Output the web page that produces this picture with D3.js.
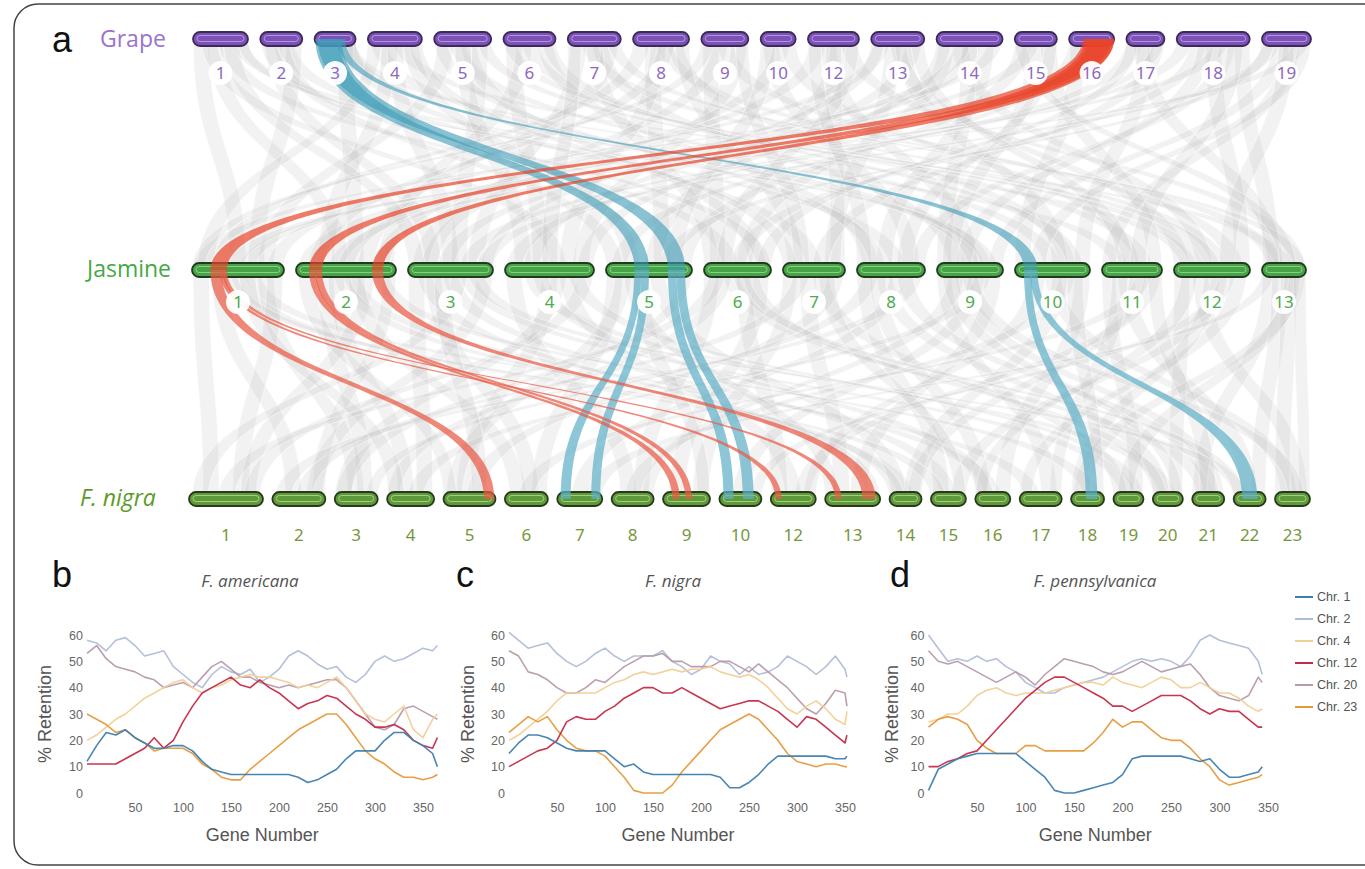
<!DOCTYPE html>
<html><head><meta charset="utf-8">
<script src="https://cdn.jsdelivr.net/npm/d3@7"></script>
<style>body{margin:0;background:#fff;} svg{display:block;}</style>
</head><body>
<svg id="fig" width="1365" height="869"></svg>
<script>
// ---------------- DATA: panel a ----------------
const grapeChr = ["1","2","3","4","5","6","7","8","9","10","12","13","14","15","16","17","18","19"];
const grapeLen = [55,42,41,54,57,52,53,56,47,35,51,53,66,42,45,38,73,49];
const jasChr = ["1","2","3","4","5","6","7","8","9","10","11","12","13"];
const jasLen = [92,100,85,89,86,67,62,68,66,75,60,76,44];
const nigraChr = ["1","2","3","4","5","6","7","8","9","10","12","13","14","15","16","17","18","19","20","21","22","23"];
const nigraLen = [74,53,43,47,52,43,45,42,47,42,45,55,32,35,35,42,33,30,30,32,32,35];

// background synteny: [grapeChr, pos, jasmineChr, pos]
const grayGJ = [
["1",.15,"1",.5],["1",.4,"2",.45],["1",.6,"6",.4],["1",.85,"11",.3],["1",.3,"4",.6],
["2",.3,"3",.3],["2",.6,"8",.6],["2",.8,"1",.7],["2",.5,"5",.1],
["3",.8,"7",.5],["3",.9,"12",.2],["3",.75,"2",.6],
["4",.2,"9",.7],["4",.4,"2",.3],["4",.6,"13",.5],["4",.8,"5",.3],["4",.5,"3",.5],
["5",.2,"1",.8],["5",.4,"10",.5],["5",.6,"6",.8],["5",.8,"3",.6],["5",.5,"4",.2],
["6",.2,"4",.4],["6",.5,"11",.7],["6",.8,"8",.2],["6",.4,"2",.9],
["7",.2,"3",.8],["7",.4,"12",.6],["7",.6,"9",.3],["7",.8,"2",.7],["7",.5,"6",.1],
["8",.15,"1",.3],["8",.35,"5",.65],["8",.55,"13",.3],["8",.75,"10",.7],["8",.9,"7",.2],["8",.45,"4",.7],
["9",.2,"6",.2],["9",.5,"12",.8],["9",.8,"4",.85],["9",.4,"3",.15],
["10",.3,"8",.8],["10",.6,"3",.25],["10",.8,"11",.5],
["12",.2,"2",.85],["12",.4,"9",.5],["12",.6,"5",.55],["12",.8,"13",.8],["12",.5,"7",.9],
["13",.2,"1",.9],["13",.4,"7",.8],["13",.6,"10",.6],["13",.8,"4",.3],["13",.5,"12",.1],
["14",.15,"6",.6],["14",.35,"12",.4],["14",.55,"3",.45],["14",.75,"8",.4],["14",.9,"1",.1],["14",.5,"9",.1],
["15",.2,"5",.9],["15",.5,"9",.2],["15",.8,"11",.9],["15",.4,"2",.1],
["16",.1,"5",.15],["16",.2,"10",.1],
["17",.2,"4",.1],["17",.5,"10",.9],["17",.8,"7",.6],["17",.4,"13",.3],
["18",.1,"2",.4],["18",.3,"6",.5],["18",.5,"12",.9],["18",.7,"8",.9],["18",.9,"13",.2],["18",.6,"1",.6],
["19",.2,"3",.9],["19",.4,"9",.9],["19",.6,"11",.1],["19",.8,"1",.45],["19",.5,"12",.7],
["1",.7,"3",.1],["2",.2,"6",.9],["3",.95,"9",.6],["4",.1,"1",.15],["5",.9,"12",.3],["6",.9,"10",.8],
["7",.9,"13",.9],["8",.6,"2",.2],["9",.9,"7",.3],["10",.2,"5",.8],["12",.9,"6",.3],["13",.9,"11",.4],
["14",.1,"4",.9],["15",.9,"8",.7],["17",.9,"3",.7],["18",.4,"9",.4],["19",.9,"10",.3],["19",.1,"5",.7],
["18",.8,"11",.6],["14",.4,"2",.5],["12",.1,"8",.1],["9",.1,"1",.05],["6",.1,"12",.5],["4",.9,"7",.1],
["1",.95,"9",.8],["5",.1,"8",.3],["13",.1,"3",.95],["17",.1,"6",.9],["15",.1,"13",.6],["7",.1,"4",.5]
];
// background synteny: [jasmineChr, pos, nigraChr, pos]
const grayJN = [
["1",.1,"1",.3],["1",.3,"2",.4],["1",.5,"14",.5],["1",.65,"17",.3],["1",.8,"3",.5],["1",.9,"1",.7],
["2",.3,"3",.7],["2",.4,"4",.4],["2",.55,"16",.5],["2",.7,"1",.8],["2",.6,"6",.3],["2",.95,"2",.9],
["3",.1,"4",.8],["3",.3,"6",.6],["3",.5,"15",.5],["3",.7,"19",.5],["3",.9,"2",.8],["3",.6,"1",.15],
["4",.1,"8",.4],["4",.3,"20",.5],["4",.5,"5",.4],["4",.7,"12",.5],["4",.9,"1",.85],["4",.6,"3",.2],
["5",.1,"6",.8],["5",.6,"14",.3],["5",.95,"3",.2],["5",.2,"5",.2],
["6",.1,"8",.7],["6",.4,"21",.4],["6",.6,"12",.2],["6",.85,"9",.3],["6",.3,"4",.1],
["7",.1,"9",.8],["7",.4,"13",.3],["7",.6,"19",.2],["7",.85,"5",.6],
["8",.1,"15",.3],["8",.4,"20",.3],["8",.6,"7",.5],["8",.85,"2",.2],["8",.3,"16",.2],
["9",.1,"17",.7],["9",.4,"21",.8],["9",.6,"10",.5],["9",.85,"13",.6],["9",.3,"8",.9],
["10",.5,"23",.4],["10",.7,"8",.5],["10",.9,"16",.8],["10",.6,"14",.7],
["11",.1,"19",.8],["11",.4,"22",.5],["11",.6,"14",.8],["11",.85,"12",.7],["11",.3,"17",.9],
["12",.1,"20",.8],["12",.35,"23",.7],["12",.6,"15",.8],["12",.85,"17",.1],["12",.5,"18",.2],
["13",.2,"21",.2],["13",.4,"22",.8],["13",.6,"23",.2],["13",.8,"18",.3],["13",.9,"23",.9],
["1",.4,"15",.2],["2",.1,"5",.1],["3",.2,"13",.9],["4",.4,"16",.3],["5",.4,"9",.9],["6",.7,"20",.2],
["7",.3,"2",.6],["8",.7,"21",.6],["9",.7,"4",.6],["10",.3,"12",.9],["11",.7,"6",.5],["12",.7,"10",.9],
["13",.1,"7",.8],["1",.6,"4",.2],["2",.85,"18",.6],["3",.8,"22",.2],["4",.8,"19",.9],["6",.2,"1",.5],
["7",.7,"15",.9],["8",.2,"3",.9],["9",.2,"20",.9],["10",.8,"18",.9],["11",.9,"21",.5],["12",.2,"16",.1],
["13",.7,"19",.4],["5",.3,"13",.1],["2",.45,"14",.2],["3",.4,"5",.7],["6",.55,"22",.1],["9",.5,"23",.6]
];
// highlighted blocks: [srcChr, start, end, tgtChr, start, end]
const blueGJ = [["3",.02,.60,"5",.33,.50],["3",.08,.66,"5",.72,.92],["3",.55,.75,"10",.12,.30]];
const blueJN = [["5",.33,.41,"7",.08,.30],["5",.41,.50,"7",.76,.96],["5",.72,.82,"10",.10,.34],["5",.82,.92,"10",.56,.82],
                ["10",.12,.22,"18",.45,.80],["10",.20,.30,"22",.28,.75]];
const redGJ = [["16",.30,.95,"1",.20,.38],["16",.35,1.0,"2",.13,.26],["16",.42,1.0,"2",.76,.87]];
const redJN = [["1",.20,.32,"5",.78,.98],["1",.30,.35,"12",.10,.24],["1",.33,.38,"13",.18,.30],
               ["2",.13,.20,"9",.20,.36],["2",.19,.26,"9",.48,.62],["2",.76,.87,"13",.68,.92]];

// ---------------- DATA: panels b-d ----------------
const seriesNames = ["Chr. 1","Chr. 2","Chr. 4","Chr. 12","Chr. 20","Chr. 23"];
const yTicks = [0,10,20,30,40,50,60];
const xTicks = [50,100,150,200,250,300,350];

const genesB = [0,10,20,30,40,50,60,70,80,90,100,110,120,130,140,150,160,170,180,190,200,210,220,230,240,250,260,270,280,290,300,310,320,330,340,350,360,365];
const amerChr1  = [12,18,23,22,24,21,19,17,17,18,18,16,12,9,8,7,7,7,7,7,7,7,6,4,5,7,9,13,16,16,16,20,23,23,20,18,15,10];
const amerChr2  = [58,57,54,58,59,56,52,53,54,48,45,42,40,45,48,46,45,47,42,44,47,52,54,52,49,47,48,44,42,45,50,52,50,51,53,55,54,56];
const amerChr4  = [20,22,25,28,30,33,36,38,40,42,43,40,38,40,41,43,44,45,44,44,43,42,40,41,40,42,44,40,35,30,28,27,30,33,24,21,28,30];
const amerChr12 = [11,11,11,11,13,15,17,21,17,20,27,33,38,40,42,44,41,40,43,40,38,35,32,34,35,37,36,33,30,28,25,25,26,24,20,18,17,21];
const amerChr20 = [53,56,51,48,47,46,44,43,40,41,42,40,44,48,50,47,44,44,42,41,40,41,40,41,42,43,43,40,35,30,25,24,26,32,33,31,29,28];
const amerChr23 = [30,28,26,23,24,21,19,16,17,17,17,15,11,9,6,5,5,9,12,15,18,21,24,26,28,30,30,26,21,16,13,11,8,6,6,5,6,7];

const genesC = [0,10,20,30,40,50,60,70,80,90,100,110,120,130,140,150,160,170,180,190,200,210,220,230,240,250,260,270,280,290,300,310,320,330,340,350,352];
const nigrChr1  = [15,19,22,22,21,19,17,16,16,16,16,13,10,11,8,7,7,7,7,7,7,7,6,2,2,4,7,11,14,14,14,14,14,14,13,13,14];
const nigrChr2  = [61,58,55,56,57,53,50,48,50,53,55,52,50,52,52,52,54,50,48,45,47,52,50,49,45,48,45,46,48,52,50,48,45,48,52,47,44];
const nigrChr4  = [20,22,25,28,31,35,38,38,38,38,40,42,43,45,46,45,46,47,46,47,47,48,46,45,44,45,43,40,36,32,30,33,35,32,28,26,31];
const nigrChr12 = [10,12,14,16,17,20,27,29,28,28,31,33,36,38,40,40,38,38,40,38,36,34,32,33,34,35,35,33,31,28,25,29,28,25,22,19,22];
const nigrChr20 = [54,52,46,45,43,40,38,38,40,43,42,45,48,50,52,52,53,50,50,48,48,48,50,50,48,46,49,46,43,40,36,32,30,34,39,38,33];
const nigrChr23 = [23,26,29,27,29,24,20,17,16,16,14,10,6,1,0,0,0,3,8,12,16,20,24,26,28,30,28,24,20,15,12,11,10,11,11,10,10];

const genesD = [0,10,20,30,40,50,60,70,80,90,100,110,120,130,140,150,160,170,180,190,200,210,220,230,240,250,260,270,280,290,300,310,320,330,340,344];
const pennChr1  = [1,9,11,13,14,15,15,15,15,15,12,9,6,1,0,0,1,2,3,4,7,13,14,14,14,14,14,13,12,13,9,6,6,7,8,10];
const pennChr2  = [60,55,50,51,50,52,50,51,48,46,42,40,38,38,40,41,42,43,44,46,48,50,51,50,51,50,48,52,58,60,58,57,56,55,50,45];
const pennChr4  = [27,28,30,30,33,37,39,40,38,37,38,38,38,39,40,41,42,42,41,44,42,41,40,42,44,43,40,40,42,40,38,38,36,33,31,32];
const pennChr12 = [10,10,12,13,15,16,20,24,28,32,36,39,42,44,44,42,40,38,36,33,33,31,33,35,37,37,37,35,32,30,32,31,31,28,25,25];
const pennChr20 = [54,50,49,50,48,46,44,42,44,46,44,41,45,48,51,50,49,48,46,45,46,48,50,48,46,47,48,49,45,40,37,36,35,37,44,42];
const pennChr23 = [25,28,29,28,26,20,17,15,15,15,18,18,16,16,16,16,16,19,23,28,25,27,27,24,21,20,20,17,13,10,5,3,4,5,6,7];

// ---------------- DRAW ----------------
const svg = d3.select("#fig");
const FONT = "'Liberation Sans', Arial, sans-serif";

svg.append("rect").attr("x",14).attr("y",4).attr("width",1440).attr("height",861)
  .attr("rx",24).attr("fill","none").attr("stroke","#444").attr("stroke-width",1.5);

function layout(names, lens, x0, x1, gap, y){
  const total = d3.sum(lens) + gap*(lens.length-1);
  const sc = d3.scaleLinear().domain([0,total]).range([x0,x1]);
  const map = new Map(); let acc = 0;
  names.forEach((n,i)=>{ map.set(n,{name:n, a:sc(acc), b:sc(acc+lens[i]), y:y}); acc += lens[i]+gap; });
  return map;
}
const G = layout(grapeChr, grapeLen, 193, 1311, 12.3, 39);
const J = layout(jasChr, jasLen, 192, 1306, 12, 270);
const N = layout(nigraChr, nigraLen, 189, 1310, 9.4, 499);

function pos(c, f){ return c.a + (c.b - c.a)*f; }
function ribbon(xa1,xa2,ya,xb1,xb2,yb){
  const ym=(ya+yb)/2;
  return `M${xa1},${ya}C${xa1},${ym} ${xb1},${ym} ${xb1},${yb}L${xb2},${yb}C${xb2},${ym} ${xa2},${ym} ${xa2},${ya}Z`;
}
const HW = 8; // half width of background blocks in px
const gGray = svg.append("g");
function grayLinks(list, S, T){
  gGray.selectAll(null).data(list).enter().append("path")
    .attr("d", d=>{ const s=S.get(d[0]), t=T.get(d[2]);
      const xs=pos(s,d[1]), xt=pos(t,d[3]);
      return ribbon(Math.max(s.a,xs-HW),Math.min(s.b,xs+HW),s.y,Math.max(t.a,xt-HW),Math.min(t.b,xt+HW),t.y); })
    .attr("fill","#bdbdbd").attr("fill-opacity",0.2)
    .attr("stroke","#ffffff").attr("stroke-opacity",0.55).attr("stroke-width",0.8);
}
grayLinks(grayGJ, G, J);
grayLinks(grayJN, J, N);

// chromosomes
function chroms(M, fill, stroke, inner){
  const g = svg.append("g");
  const data = Array.from(M.values());
  g.selectAll(null).data(data).enter().append("rect")
    .attr("x",d=>d.a).attr("y",d=>d.y-7).attr("width",d=>d.b-d.a).attr("height",14).attr("rx",7)
    .attr("fill",fill).attr("stroke",stroke).attr("stroke-width",1.8);
  g.selectAll(null).data(data).enter().append("rect")
    .attr("x",d=>d.a+4).attr("y",d=>d.y-3.5).attr("width",d=>d.b-d.a-8).attr("height",6).attr("rx",3)
    .attr("fill","none").attr("stroke",inner).attr("stroke-width",0.9).attr("stroke-opacity",0.8);
}
chroms(G, "#7d52b8", "#3b2a58", "#c9b2ec");
chroms(J, "#46a446", "#1f3a1f", "#a9dca0");
chroms(N, "#5f9a3a", "#283a1a", "#bfe0a0");

// highlighted links
const gHi = svg.append("g");
function hiLinks(list, S, T, color, op){
  gHi.selectAll(null).data(list).enter().append("path")
    .attr("d", d=>{ const s=S.get(d[0]), t=T.get(d[3]);
      return ribbon(pos(s,d[1]),pos(s,d[2]),s.y,pos(t,d[4]),pos(t,d[5]),t.y); })
    .attr("fill",color).attr("fill-opacity",op);
}
hiLinks(blueGJ, G, J, "#3f9db8", 0.62);
hiLinks(redGJ, G, J, "#e8442a", 0.7);
hiLinks(blueJN, J, N, "#5fb0c8", 0.72);
hiLinks(redJN, J, N, "#ea5a45", 0.72);

// chromosome labels
function labels(M, dy, color, circle){
  const g = svg.append("g");
  const data = Array.from(M.values());
  if(circle){
    g.selectAll(null).data(data).enter().append("circle")
      .attr("cx",d=>(d.a+d.b)/2).attr("cy",d=>d.y+dy).attr("r",12)
      .attr("fill","#fff").attr("fill-opacity",0.95);
  }
  g.selectAll(null).data(data).enter().append("text")
    .attr("x",d=>(d.a+d.b)/2).attr("y",d=>d.y+dy).attr("dy","0.36em")
    .attr("text-anchor","middle").attr("fill",color)
    .style("font","17px 'Noto Sans', sans-serif").text(d=>d.name);
}
labels(G, 34, "#8c68c0", true);
labels(J, 32, "#4ea84e", true);
labels(N, 36, "#77963c", false);

// genome names
svg.append("text").attr("x",100).attr("y",47).attr("fill","#9a74cc")
  .style("font","23px 'Open Sans', sans-serif").text("Grape");
svg.append("text").attr("x",87).attr("y",277).attr("fill","#45a845")
  .style("font","23px 'Open Sans', sans-serif").text("Jasmine");
svg.append("text").attr("x",80).attr("y",506).attr("fill","#5e9a2a")
  .style("font","italic 23px 'Open Sans', sans-serif").text("F. nigra");

// panel letters
const letters = [["a",52,52],["b",52,587],["c",456,587],["d",890,587]];
svg.selectAll(null).data(letters).enter().append("text")
  .attr("x",d=>d[1]).attr("y",d=>d[2]).attr("fill","#111")
  .style("font","36px "+FONT).text(d=>d[0]);

// ---------------- line panels ----------------
const colors = ["#3d7eb0","#b0bdd8","#f2cf95","#c42b45","#b79aab","#e69a3c"];
const drawOrder = [1,4,2,5,3,0];
const panels = [
  {title:"F. americana", genes:genesB, vals:[amerChr1,amerChr2,amerChr4,amerChr12,amerChr20,amerChr23], x0:87, k:0.96, tx:250, ax:45},
  {title:"F. nigra", genes:genesC, vals:[nigrChr1,nigrChr2,nigrChr4,nigrChr12,nigrChr20,nigrChr23], x0:509, k:0.96, tx:673, ax:468},
  {title:"F. pennsylvanica", genes:genesD, vals:[pennChr1,pennChr2,pennChr4,pennChr12,pennChr20,pennChr23], x0:928.5, k:0.97, tx:1095, ax:892}
];
panels.forEach(p=>{
  const gmax = d3.max(p.genes);
  const x = d3.scaleLinear().domain([0,gmax]).range([p.x0, p.x0 + gmax*p.k]);
  const y = d3.scaleLinear().domain([0,60]).range([793,635]);
  const g = svg.append("g");
  const xa = g.append("g").attr("transform","translate(0,793)")
    .call(d3.axisBottom(x).tickValues(xTicks).tickSize(0).tickPadding(10));
  const ya = g.append("g").attr("transform",`translate(${p.x0},0)`)
    .call(d3.axisLeft(y).tickValues(yTicks).tickSize(0).tickPadding(4));
  [xa,ya].forEach(a=>{ a.select(".domain").remove();
    a.selectAll("text").attr("fill","#666").style("font","12.5px "+FONT); });
  const line = d3.line().x((d,i)=>x(p.genes[i])).y(d=>y(d));
  drawOrder.forEach(si=>{
    g.append("path").attr("d", line(p.vals[si])).attr("fill","none")
      .attr("stroke", colors[si]).attr("stroke-width",1.6).attr("stroke-opacity",0.95)
      .attr("stroke-linejoin","round");
  });
  g.append("text").attr("x",p.tx).attr("y",587).attr("text-anchor","middle").attr("fill","#555")
    .style("font","italic 17px 'Open Sans', sans-serif").text(p.title);
  g.append("text").attr("x",(x.range()[0]+x.range()[1])/2).attr("y",841).attr("text-anchor","middle")
    .attr("fill","#555").style("font","18px "+FONT).text("Gene Number");
  g.append("text").attr("transform",`translate(${p.ax},714) rotate(-90)`).attr("text-anchor","middle")
    .attr("dy","0.35em").attr("fill","#555").style("font","18px "+FONT).text("% Retention");
});

// legend
const leg = svg.append("g").attr("transform","translate(1295,597)");
const li = leg.selectAll(null).data(seriesNames).enter().append("g")
  .attr("transform",(d,i)=>`translate(0,${i*22})`);
li.append("line").attr("x1",0).attr("x2",18).attr("stroke",(d,i)=>colors[i]).attr("stroke-width",2);
li.append("text").attr("x",22).attr("dy","0.35em").attr("fill","#555")
  .style("font","12.5px "+FONT).text(d=>d);
</script>
</body></html>
